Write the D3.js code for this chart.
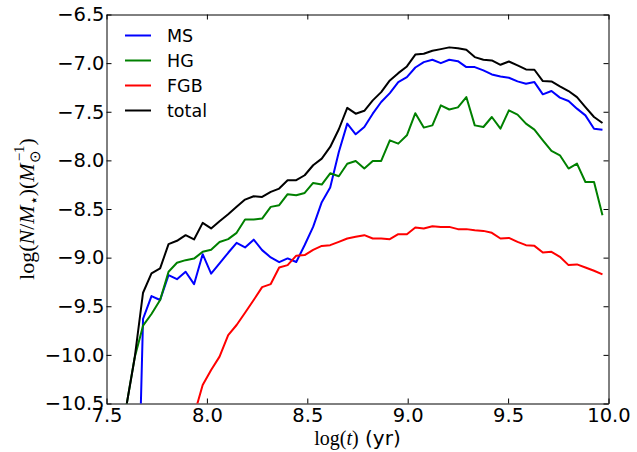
<!DOCTYPE html>
<html>
<head>
<meta charset="utf-8">
<script src="https://cdn.jsdelivr.net/npm/d3@7"></script>
<style>
  body { margin: 0; background: #fff; }
  svg { display: block; }
  .tick text { font-family: "DejaVu Sans", sans-serif; font-size: 19.5px; fill: #000; }
  .domain, .tick line { stroke: #000; stroke-width: 1; }
  .series { fill: none; stroke-width: 2; stroke-linejoin: round; }
</style>
</head>
<body>
<svg width="637" height="452"></svg>
<script>

/************************************************/
/* Data                    */
/************************************************/

const logT = [7.597, 7.640, 7.682, 7.724, 7.767, 7.809, 7.851, 7.894, 7.936, 7.979,
              8.021, 8.063, 8.106, 8.148, 8.190, 8.233, 8.275, 8.318, 8.360, 8.402,
              8.445, 8.487, 8.529, 8.572, 8.614, 8.657, 8.699, 8.741, 8.784, 8.826,
              8.868, 8.911, 8.953, 8.996, 9.038, 9.080, 9.123, 9.165, 9.207, 9.250,
              9.292, 9.334, 9.377, 9.419, 9.462, 9.504, 9.547, 9.589, 9.631, 9.673,
              9.716, 9.758, 9.801, 9.843, 9.885, 9.928, 9.970];

const msVals = [null, -13.0, -9.63, -9.395, -9.436, -9.18, -9.222, -9.145, -9.273, -8.965,
                -9.165, -9.06, -8.95, -8.848, -8.895, -8.815, -8.923, -8.998, -9.047, -9.008,
                -9.045, -8.87, -8.684, -8.43, -8.28, -7.914, -7.622, -7.732, -7.657, -7.52,
                -7.40, -7.308, -7.195, -7.144, -7.045, -6.99, -6.965, -7.0, -6.965, -6.98,
                -7.041, -7.041, -7.075, -7.116, -7.137, -7.15, -7.188, -7.212, -7.195, -7.321,
                -7.287, -7.355, -7.39, -7.468, -7.537, -7.674, -7.684];

const hgVals = [-10.55, -10.03, -9.70, -9.58, -9.436, -9.145, -9.053, -9.026, -9.01, -8.94,
                -8.92, -8.84, -8.81, -8.745, -8.608, -8.608, -8.598, -8.478, -8.461, -8.348,
                -8.358, -8.335, -8.232, -8.249, -8.133, -8.163, -8.035, -8.006, -8.084, -8.006,
                -8.006, -7.794, -7.828, -7.742, -7.515, -7.663, -7.64, -7.434, -7.477, -7.455,
                -7.349, -7.64, -7.657, -7.554, -7.674, -7.486, -7.53, -7.622, -7.684, -7.794,
                -7.903, -7.948, -8.084, -8.033, -8.222, -8.222, -8.564];

const fgbVals = [null, null, null, null, null, null, null, null, -10.62, -10.31,
                 -10.155, -10.018, -9.796, -9.693, -9.567, -9.436, -9.303, -9.272, -9.101, -9.077,
                 -8.98, -8.974, -8.92, -8.88, -8.872, -8.838, -8.803, -8.786, -8.769, -8.803,
                 -8.803, -8.81, -8.759, -8.759, -8.69, -8.70, -8.677, -8.684, -8.684, -8.707,
                 -8.707, -8.718, -8.725, -8.745, -8.803, -8.797, -8.838, -8.872, -8.879, -8.947,
                 -8.94, -8.992, -9.077, -9.07, -9.101, -9.135, -9.172];

const totalVals = [-10.55, -10.035, -9.361, -9.162, -9.111, -8.861, -8.827, -8.769, -8.813, -8.643,
                   -8.700, -8.625, -8.553, -8.478, -8.403, -8.369, -8.376, -8.324, -8.290, -8.204,
                   -8.204, -8.153, -8.050, -7.982, -7.862, -7.68, -7.46, -7.52, -7.49, -7.383,
                   -7.298, -7.178, -7.103, -7.034, -6.912, -6.904, -6.873, -6.856, -6.838, -6.846,
                   -6.863, -6.938, -6.965, -6.972, -7.017, -6.983, -7.024, -7.065, -7.068, -7.185,
                   -7.188, -7.239, -7.287, -7.349, -7.452, -7.554, -7.616];

const seriesNames = ["MS", "HG", "FGB", "total"];
const xTicks = [7.5, 8.0, 8.5, 9.0, 9.5, 10.0];
const yTicks = [-10.5, -10.0, -9.5, -9.0, -8.5, -8.0, -7.5, -7.0, -6.5];

/************************************************/
/* Scales and frame                             */
/************************************************/

const colours = { MS: "#0000ff", HG: "#008000", FGB: "#ff0000", total: "#000000" };
const series = [msVals, hgVals, fgbVals, totalVals].map((vals, k) => ({
    name: seriesNames[k],
    points: logT.map((t, i) => ({ t: t, v: vals[i] }))
}));

const svg = d3.select("svg"),
    plotLeft = 106.5, plotRight = 608.5, plotTop = 14.5, plotBottom = 403.5;

const x = d3.scaleLinear().domain([7.5, 10.0]).range([plotLeft, plotRight]);
const y = d3.scaleLinear().domain([-10.5, -6.5]).range([plotBottom, plotTop]);
const fmt = d3.format(".1f");

svg.append("rect").attr("width", 637).attr("height", 452).attr("fill", "#fff");

svg.append("clipPath").attr("id", "plotclip")
   .append("rect")
   .attr("x", plotLeft).attr("y", plotTop)
   .attr("width", plotRight - plotLeft).attr("height", plotBottom - plotTop);

// ticks point inward on all four sides
svg.append("g").attr("transform", "translate(0," + plotBottom + ")")
   .call(d3.axisBottom(x).tickValues(xTicks).tickFormat(fmt).tickSizeInner(-5).tickSizeOuter(0).tickPadding(5));
svg.append("g").attr("transform", "translate(0," + plotTop + ")")
   .call(d3.axisTop(x).tickValues(xTicks).tickFormat("").tickSizeInner(-5).tickSizeOuter(0));
svg.append("g").attr("transform", "translate(" + plotLeft + ",0)")
   .call(d3.axisLeft(y).tickValues(yTicks).tickFormat(fmt).tickSizeInner(-5).tickSizeOuter(0).tickPadding(2));
svg.append("g").attr("transform", "translate(" + plotRight + ",0)")
   .call(d3.axisRight(y).tickValues(yTicks).tickFormat("").tickSizeInner(-5).tickSizeOuter(0));

svg.selectAll(".tick text").attr("fill", "#000");

/************************************************/
/* Lines                                        */
/************************************************/

const line = d3.line()
    .defined(d => d.v != null)
    .x(d => x(d.t))
    .y(d => y(d.v));

svg.append("g").attr("clip-path", "url(#plotclip)")
   .selectAll("path").data(series).enter().append("path")
   .attr("class", "series")
   .attr("stroke", d => colours[d.name])
   .attr("d", d => line(d.points));

/************************************************/
/* Legend                                       */
/************************************************/

const legend = svg.append("g").attr("transform", "translate(125,35.5)");
const item = legend.selectAll("g").data(seriesNames).enter().append("g")
    .attr("transform", (d, i) => "translate(0," + (i * 25) + ")");
item.append("line")
    .attr("x1", 0).attr("x2", 26).attr("y1", 0).attr("y2", 0)
    .attr("stroke", d => colours[d]).attr("stroke-width", 2);
item.append("text")
    .attr("x", 42).attr("dy", "0.36em")
    .style("font-family", "DejaVu Sans, sans-serif")
    .style("font-size", "17.5px")
    .text(d => d);

/************************************************/
/* Axis labels                                  */
/************************************************/

const xlab = svg.append("text")
    .attr("x", (plotLeft + plotRight) / 2).attr("y", 445)
    .attr("text-anchor", "middle")
    .style("font-size", "20px");
xlab.append("tspan").style("font-family", "Liberation Serif, serif").text("log(");
xlab.append("tspan").style("font-family", "Liberation Serif, serif").style("font-style", "italic").text("t");
xlab.append("tspan").style("font-family", "Liberation Serif, serif").text(")");
xlab.append("tspan").style("font-family", "DejaVu Sans, sans-serif").text(" (yr)");

const ylab = svg.append("text")
    .attr("transform", "translate(34," + ((plotTop + plotBottom) / 2) + ") rotate(-90)")
    .attr("text-anchor", "middle")
    .style("font-family", "Liberation Serif, serif")
    .style("font-size", "22px");
ylab.append("tspan").text("log(");
ylab.append("tspan").style("font-style", "italic").text("N");
ylab.append("tspan").text("/");
ylab.append("tspan").style("font-style", "italic").text("M");
ylab.append("tspan").attr("dy", 5).style("font-size", "15px").text("⋆");
ylab.append("tspan").attr("dy", -5).text(")(");
ylab.append("tspan").style("font-style", "italic").text("M");
ylab.append("tspan").attr("dy", 6).style("font-size", "15px").text("⊙");
ylab.append("tspan").attr("dy", -16).attr("dx", -11).style("font-size", "15px").text("−1");
ylab.append("tspan").attr("dy", 10).text(")");

</script>
</body>
</html>
